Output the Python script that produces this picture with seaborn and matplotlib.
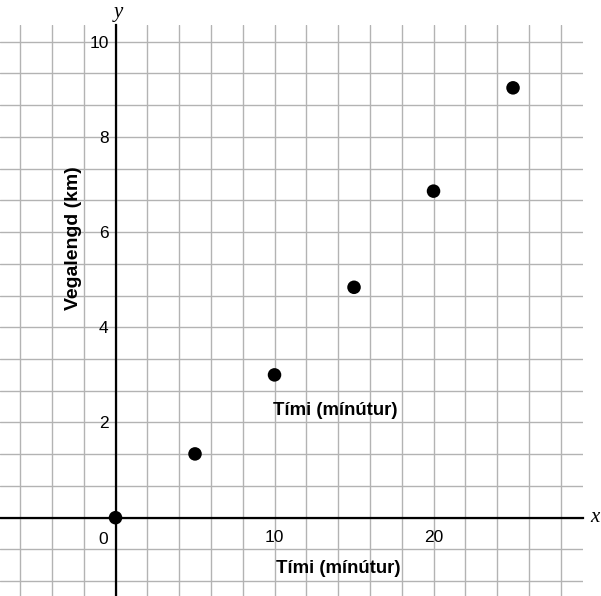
import numpy as np
import pandas as pd
import matplotlib
matplotlib.use("Agg")
import matplotlib.pyplot as plt
import seaborn as sns

timi = [0, 5, 10, 15, 20, 25]
vegalengd = [0, 1.34, 3.0, 4.84, 6.86, 9.03]
x_tick_vals = [10, 20]
y_tick_vals = [2, 4, 6, 8, 10]
x_label = "Tími (mínútur)"
y_label = "Vegalengd (km)"

df = pd.DataFrame({"timi": timi, "vegalengd": vegalengd})

sns.set_style("white")
plt.rcParams["font.family"] = ["Liberation Sans", "DejaVu Sans"]
plt.rcParams["text.color"] = "black"

fig = plt.figure(figsize=(6.01, 5.96), dpi=100)
ax = fig.add_axes([0, 0, 583 / 601, (596 - 25) / 596])

sns.scatterplot(data=df, x="timi", y="vegalengd", ax=ax, s=95, color="black",
                edgecolor="none", zorder=5, clip_on=False)

ax.set_xlim(-7.264, 29.40)
ax.set_ylim(-1.645, 10.35)

# squared paper
ax.set_xticks(np.arange(-6, 30, 2), minor=True)
ax.set_yticks(np.arange(-2, 16) * 2 / 3, minor=True)
ax.set_xticks(x_tick_vals)
ax.set_yticks(y_tick_vals)
ax.set_xticklabels([str(v) for v in x_tick_vals])
ax.set_yticklabels([str(v) for v in y_tick_vals])
ax.grid(which="both", color="#b3b3b3", linewidth=1.0)
ax.set_axisbelow(True)

for side in ["top", "right"]:
    ax.spines[side].set_visible(False)
for side in ["left", "bottom"]:
    ax.spines[side].set_position("zero")
    ax.spines[side].set_color("black")
    ax.spines[side].set_linewidth(1.6)
    ax.spines[side].set_zorder(3)

ax.tick_params(which="both", length=0, labelsize=12.5, colors="black")
ax.tick_params(axis="y", pad=5)
ax.tick_params(axis="x", pad=9)
ax.set_xlabel("")
ax.set_ylabel("")

ax.text(-0.79, -0.45, "0", fontsize=12.5, ha="center", va="center")

bold = dict(fontweight="bold", ha="center", va="center")
ax.text(13.8, 2.26, x_label, fontsize=13.4, **bold)
ax.text(14.03, -1.06, x_label, fontsize=13.4, **bold)
ax.text(-2.67, 5.88, y_label, rotation=90, fontsize=14, **bold)

ital = dict(fontsize=15, fontstyle="italic", family="Liberation Serif",
            ha="center", va="center", clip_on=False)
ax.text(0.16, 10.62, "y", **ital)
ax.text(30.16, 0.0, "x", **ital)

fig.savefig("out.png", dpi=100)
